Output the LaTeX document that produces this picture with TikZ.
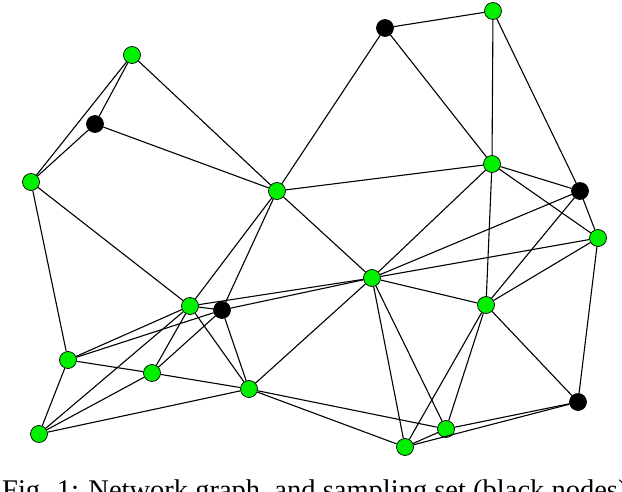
\documentclass[tikz,border=0pt]{standalone}
\usepackage{fontspec}
\setmainfont{Liberation Serif}
\definecolor{nodegreen}{RGB}{0,240,0}
\tikzset{
  gnode/.style={circle, draw=black, line width=0.7pt, fill=nodegreen, minimum size=17pt, inner sep=0pt},
  bnode/.style={circle, draw=black, line width=0.7pt, fill=black, minimum size=17pt, inner sep=0pt},
  link/.style={line width=1.1pt}
}
\begin{document}
\begin{tikzpicture}[x=1pt, y=-1pt]
  \useasboundingbox (0,0) rectangle (622,492);

  % Sampling nodes (black)
  \foreach \n/\x/\y in {b/95/124, e/385/28, h/580/191, l/222/310, r/578/402} {
    \node[bnode] (\n) at (\x,\y) {};
  }

  % Other nodes (green)
  \foreach \n/\x/\y in {a/132/55, c/31/182, d/277/191, f/493/11, g/492/164,
      i/598/238, j/372/278, k/190/306, m/486/305, n/68/360, o/152/373,
      p/249/389, q/39/434, s/446/429, t/405/447} {
    \node[gnode] (\n) at (\x,\y) {};
  }

  % Edges
  \foreach \u/\v in {a/b, a/c, a/d, b/c, b/d, c/n, c/k,
      d/e, d/g, d/j, d/k, d/l, e/f, e/g, f/g, f/h,
      g/h, g/i, g/j, g/m, h/i, h/j, h/m, i/j, i/m, i/r,
      j/k, j/l, j/m, j/p, j/s, j/t,
      k/l, k/n, k/o, k/p, k/q, l/n, l/o, l/p,
      n/o, o/p, n/q, o/q, p/q,
      m/r, m/s, m/t, p/s, p/t, r/s, r/t, s/t} {
    \draw[link] (\u) -- (\v);
  }

  % Caption
  \node[anchor=base west, inner sep=0pt, font=\fontsize{28.5}{30}\selectfont] (caption) at (2,499)
    {Fig. 1: Network graph, and sampling set (black nodes).};
\end{tikzpicture}
\end{document}
